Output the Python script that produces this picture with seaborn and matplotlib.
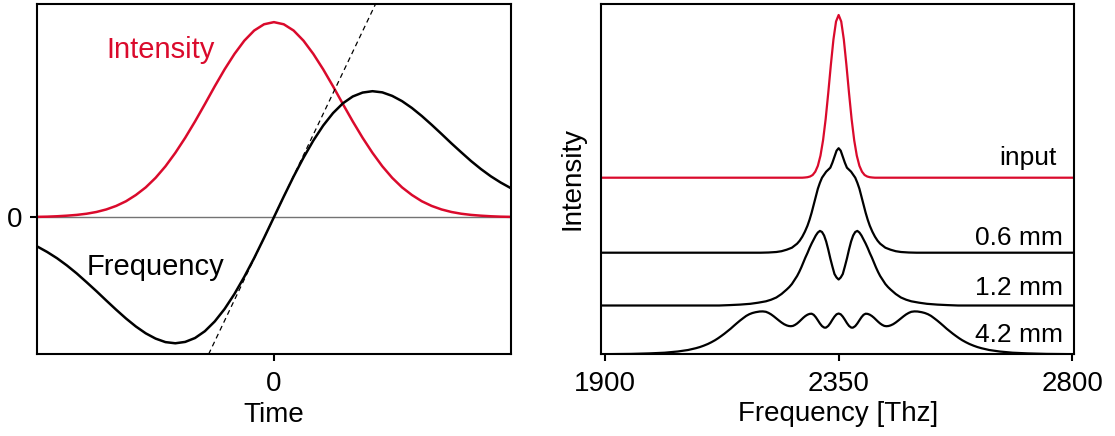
import numpy as np
import matplotlib
matplotlib.use("Agg")
import matplotlib.pyplot as plt
import seaborn as sns

RED = "#DA0A2C"

# ---------------- left panel: pulse in the time domain ----------------
time = [-2.4, -2.3, -2.2, -2.1, -2.0, -1.9, -1.8, -1.7, -1.6, -1.5, -1.4, -1.3,
        -1.2, -1.1, -1.0, -0.9, -0.8, -0.7, -0.6, -0.5, -0.4, -0.3, -0.2, -0.1,
        0.0, 0.1, 0.2, 0.3, 0.4, 0.5, 0.6, 0.7, 0.8, 0.9, 1.0, 1.1, 1.2, 1.3,
        1.4, 1.5, 1.6, 1.7, 1.8, 1.9, 2.0, 2.1, 2.2, 2.3, 2.4]
intensity = [0.002, 0.003, 0.005, 0.008, 0.012, 0.018, 0.027, 0.040, 0.058, 0.082,
             0.114, 0.153, 0.202, 0.261, 0.330, 0.407, 0.491, 0.580, 0.671, 0.758,
             0.837, 0.905, 0.957, 0.989, 1.000, 0.989, 0.957, 0.905, 0.837, 0.758,
             0.671, 0.580, 0.491, 0.407, 0.330, 0.261, 0.202, 0.153, 0.114, 0.082,
             0.058, 0.040, 0.027, 0.018, 0.012, 0.008, 0.005, 0.003, 0.002]
frequency = [-0.150, -0.178, -0.210, -0.247, -0.288, -0.333, -0.379, -0.427, -0.474,
             -0.519, -0.560, -0.595, -0.622, -0.640, -0.646, -0.639, -0.619, -0.584,
             -0.534, -0.470, -0.393, -0.305, -0.209, -0.106, 0.000, 0.106, 0.209,
             0.305, 0.393, 0.470, 0.534, 0.584, 0.619, 0.639, 0.646, 0.640, 0.622,
             0.595, 0.560, 0.519, 0.474, 0.427, 0.379, 0.333, 0.288, 0.247, 0.210,
             0.178, 0.150]
chirp_slope = 1.06  # linear chirp around the pulse centre

# ---------------- right panel: spectra after propagation ----------------
freq_input = [1880, 2280, 2285, 2290, 2295, 2300, 2305, 2310, 2315, 2320, 2325,
              2330, 2335, 2340, 2345, 2350, 2355, 2360, 2365, 2370, 2375, 2380,
              2385, 2390, 2395, 2400, 2405, 2410, 2415, 2420, 2820]
spec_input = [0, 0, 0.002, 0.005, 0.012, 0.027, 0.060, 0.119, 0.220, 0.374, 0.586,
              0.847, 1.127, 1.382, 1.562, 1.627, 1.562, 1.382, 1.127, 0.847, 0.586,
              0.374, 0.220, 0.119, 0.060, 0.027, 0.012, 0.005, 0.002, 0, 0]

freq_06 = [1880, 2200, 2215, 2230, 2240, 2250, 2260, 2270, 2275, 2280, 2285, 2290,
           2294, 2298, 2302, 2306, 2310, 2314, 2318, 2322, 2326, 2330, 2334, 2338,
           2342, 2346, 2350, 2354, 2358, 2362, 2366, 2370, 2374, 2378, 2382, 2386,
           2390, 2394, 2398, 2402, 2406, 2410, 2415, 2420, 2425, 2430, 2440, 2450,
           2460, 2470, 2485, 2500, 2820]
spec_06 = [0, 0, 0.002, 0.007, 0.015, 0.03, 0.05, 0.09, 0.12, 0.16, 0.21, 0.27,
           0.33, 0.40, 0.48, 0.56, 0.64, 0.70, 0.75, 0.78, 0.81, 0.83, 0.85, 0.90,
           0.96, 1.02, 1.045, 1.02, 0.96, 0.90, 0.85, 0.83, 0.81, 0.78, 0.75, 0.70,
           0.64, 0.56, 0.48, 0.40, 0.33, 0.27, 0.21, 0.16, 0.12, 0.09, 0.05, 0.03,
           0.015, 0.007, 0.002, 0, 0]

freq_12 = [1880, 2120, 2140, 2160, 2180, 2195, 2210, 2220, 2230, 2240, 2250, 2255,
           2260, 2265, 2270, 2274, 2278, 2282, 2286, 2290, 2294, 2298, 2302, 2306,
           2310, 2314, 2318, 2322, 2326, 2330, 2334, 2338, 2342, 2346, 2350, 2354,
           2358, 2362, 2366, 2370, 2374, 2378, 2382, 2386, 2390, 2394, 2398, 2402,
           2406, 2410, 2414, 2418, 2422, 2426, 2430, 2435, 2440, 2445, 2450, 2460,
           2470, 2480, 2490, 2505, 2520, 2540, 2560, 2580, 2820]
spec_12 = [0, 0, 0.004, 0.009, 0.017, 0.028, 0.042, 0.058, 0.08, 0.115, 0.16, 0.185,
           0.215, 0.255, 0.295, 0.335, 0.38, 0.43, 0.48, 0.525, 0.575, 0.62, 0.66,
           0.70, 0.73, 0.746, 0.735, 0.70, 0.64, 0.56, 0.47, 0.39, 0.315, 0.28, 0.26,
           0.28, 0.315, 0.39, 0.47, 0.56, 0.64, 0.70, 0.735, 0.746, 0.73, 0.70, 0.66,
           0.62, 0.575, 0.525, 0.48, 0.43, 0.38, 0.335, 0.295, 0.255, 0.215, 0.185,
           0.16, 0.115, 0.08, 0.058, 0.042, 0.028, 0.017, 0.009, 0.004, 0, 0]

freq_42 = [1890, 1910, 1950, 1985, 2015, 2040, 2060, 2075, 2083, 2090, 2098, 2105,
           2112, 2118, 2124, 2130, 2136, 2142, 2148, 2154, 2160, 2166, 2172, 2178,
           2184, 2190, 2198, 2204, 2210, 2215, 2220, 2225, 2230, 2235, 2240, 2245,
           2250, 2254, 2258, 2262, 2266, 2270, 2274, 2278, 2282, 2286, 2290, 2294,
           2298, 2302, 2306, 2310, 2314, 2318, 2322, 2324, 2326, 2330, 2334, 2338,
           2342, 2346, 2350, 2354, 2358, 2362, 2366, 2370, 2374, 2376, 2378, 2382,
           2386, 2390, 2394, 2398, 2402, 2406, 2410, 2414, 2418, 2422, 2426, 2430,
           2434, 2438, 2442, 2446, 2450, 2455, 2460, 2465, 2470, 2475, 2480, 2485,
           2490, 2496, 2502, 2510, 2516, 2522, 2528, 2534, 2540, 2546, 2552, 2558,
           2564, 2570, 2576, 2582, 2588, 2595, 2602, 2610, 2617, 2625, 2640, 2660,
           2685, 2715, 2750, 2790, 2810]
spec_42 = [0, 0.001, 0.003, 0.008, 0.015, 0.027, 0.042, 0.060, 0.072, 0.085, 0.102,
           0.120, 0.140, 0.160, 0.182, 0.205, 0.230, 0.255, 0.283, 0.310, 0.336, 0.360,
           0.383, 0.400, 0.412, 0.420, 0.427, 0.428, 0.424, 0.413, 0.398, 0.379, 0.358,
           0.337, 0.317, 0.300, 0.288, 0.282, 0.280, 0.283, 0.293, 0.307, 0.325, 0.345,
           0.365, 0.382, 0.395, 0.403, 0.405, 0.394, 0.370, 0.339, 0.307, 0.281, 0.267,
           0.265, 0.267, 0.283, 0.311, 0.345, 0.376, 0.399, 0.407, 0.399, 0.376, 0.345,
           0.311, 0.283, 0.267, 0.265, 0.267, 0.281, 0.307, 0.339, 0.370, 0.394, 0.405,
           0.403, 0.395, 0.382, 0.365, 0.345, 0.325, 0.307, 0.293, 0.283, 0.280, 0.282,
           0.288, 0.300, 0.317, 0.337, 0.358, 0.379, 0.398, 0.413, 0.424, 0.428, 0.427,
           0.420, 0.412, 0.400, 0.383, 0.360, 0.336, 0.310, 0.283, 0.255, 0.230, 0.205,
           0.182, 0.160, 0.140, 0.120, 0.102, 0.085, 0.072, 0.060, 0.042, 0.027, 0.015,
           0.008, 0.003, 0.001, 0]

spectrum_labels = ["input", "0.6 mm", "1.2 mm", "4.2 mm"]
spectrum_offsets = [1.765, 1.015, 0.487, 0.0]
freq_ticks = [1900, 2350, 2800]

# ---------------- style ----------------
sns.set_theme(style="ticks")
plt.rcParams["font.family"] = ["Liberation Sans", "DejaVu Sans"]
plt.rcParams.update({
    "axes.edgecolor": "black",
    "axes.linewidth": 1.5,
    "xtick.color": "black",
    "ytick.color": "black",
    "xtick.major.width": 1.5,
    "ytick.major.width": 1.5,
    "xtick.major.size": 5,
    "ytick.major.size": 5,
    "xtick.labelsize": 20,
    "ytick.labelsize": 20,
    "axes.labelsize": 20,
    "text.color": "black",
    "axes.labelcolor": "black",
})

fig = plt.figure(figsize=(11.15, 4.36), dpi=100)
ax1 = fig.add_axes([0.03345, 0.1876, 0.4244, 0.8037])
ax2 = fig.add_axes([0.5390, 0.1876, 0.4245, 0.8037])

# ---- time domain ----
ax1.axhline(0, color="0.45", lw=1.0, zorder=1)
sns.lineplot(x=time, y=intensity, ax=ax1, color=RED, lw=1.8, estimator=None)
sns.lineplot(x=time, y=frequency, ax=ax1, color="black", lw=1.8, estimator=None)
ax1.axline((0, 0), slope=chirp_slope, color="black", lw=0.9, ls=(0, (4, 3)))
ax1.set_xlim(-2.4, 2.4)
ax1.set_ylim(-0.702, 1.094)
ax1.set_xticks([0])
ax1.set_yticks([0])
ax1.tick_params(axis="x", pad=7)
ax1.tick_params(axis="y", pad=6)
ax1.set_xlabel("Time", labelpad=4)
ax1.set_ylabel("")
ax1.text(-1.151, 0.817, "Intensity", color=RED, fontsize=21,
         ha="center", va="baseline")
ax1.text(-1.197, -0.296, "Frequency", color="black", fontsize=21,
         ha="center", va="baseline")

# ---- spectra ----
spectra = [(freq_input, spec_input, RED), (freq_06, spec_06, "black"),
           (freq_12, spec_12, "black"), (freq_42, spec_42, "black")]
for (fr, sp, col), off in zip(spectra, spectrum_offsets):
    sns.lineplot(x=fr, y=np.asarray(sp) + off, ax=ax2, color=col, lw=1.6,
                 estimator=None)

label_pos = [(2770.6, 1.89), (2782, 1.09), (2782, 0.59), (2782, 0.123)]
for name, (lx, ly) in zip(spectrum_labels, label_pos):
    ax2.text(lx, ly, name, fontsize=19, ha="right", va="baseline")

ax2.set_xlim(1892.3, 2803.9)
ax2.set_ylim(0, 3.504)
ax2.set_xticks(freq_ticks)
ax2.set_yticks([])
ax2.tick_params(axis="x", pad=7)
ax2.set_xlabel("Frequency [Thz]", labelpad=3)
ax2.set_ylabel("Intensity", labelpad=11)

for ax in (ax1, ax2):
    for s in ax.spines.values():
        s.set_visible(True)
        s.set_color("black")
        s.set_linewidth(1.5)

fig.savefig("out.png", dpi=100)
